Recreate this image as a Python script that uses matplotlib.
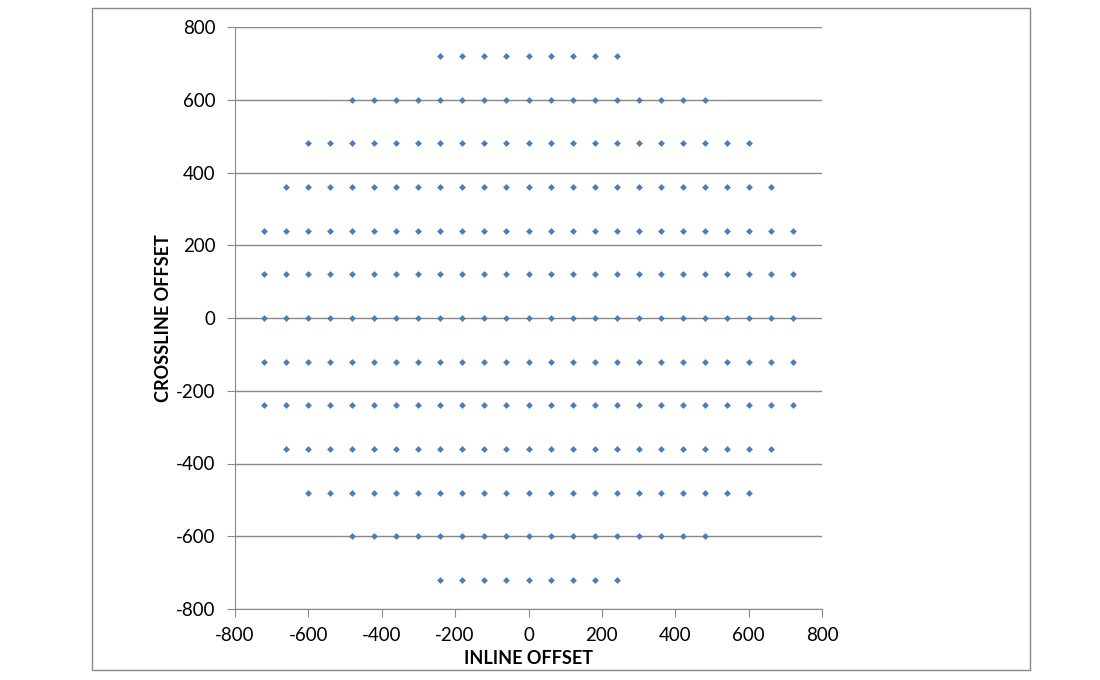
import numpy as np
import matplotlib.pyplot as plt
from matplotlib.patches import Rectangle

plt.rcParams['font.family'] = ['Lato', 'DejaVu Sans']
plt.rcParams['axes.unicode_minus'] = False

# crossline rows and the inline extent of each row (offsets, m)
row_y = [720, 600, 480, 360, 240, 120, 0, -120, -240, -360, -480, -600, -720]
row_half_width = [240, 480, 600, 660, 720, 720, 720, 720, 720, 660, 600, 480, 240]
inline_step = 60

xs = []
ys = []
for y, w in zip(row_y, row_half_width):
    row_x = np.arange(-w, w + 1, inline_step)
    xs.extend(row_x)
    ys.extend([y] * len(row_x))

grey = "#898989"

fig = plt.figure(figsize=(11, 6.8), dpi=100)
ax = fig.add_axes([235 / 1100, 1 - 609 / 680, (822 - 235) / 1100, (609 - 27) / 680])

# outer chart border
fig.patches.append(Rectangle((92 / 1100, 1 - 670 / 680), (1030 - 92) / 1100, (670 - 8) / 680,
                             transform=fig.transFigure, fill=False, edgecolor=grey, lw=1))

ax.scatter(xs, ys, marker="D", s=12, color="#4a7ebb", zorder=3, linewidths=0)

ax.set_xlim(-800, 800)
ax.set_ylim(-800, 800)
ax.set_xticks(np.arange(-800, 801, 200))
ax.set_yticks(np.arange(-800, 801, 200))
ax.yaxis.grid(True, color=grey, lw=1)
ax.set_axisbelow(True)

for side in ["top", "right"]:
    ax.spines[side].set_visible(False)
for side in ["left", "bottom"]:
    ax.spines[side].set_color(grey)
ax.tick_params(axis="x", direction="out", length=6, color=grey, labelsize=13.5, pad=7)
ax.tick_params(axis="y", direction="out", length=6, color=grey, labelsize=13.5, pad=8)

ax.set_xlabel("INLINE OFFSET", fontsize=13, fontweight="bold", labelpad=4)
ax.set_ylabel("CROSSLINE OFFSET", fontsize=13, fontweight="bold", labelpad=3)

fig.savefig("out.png", dpi=100)
